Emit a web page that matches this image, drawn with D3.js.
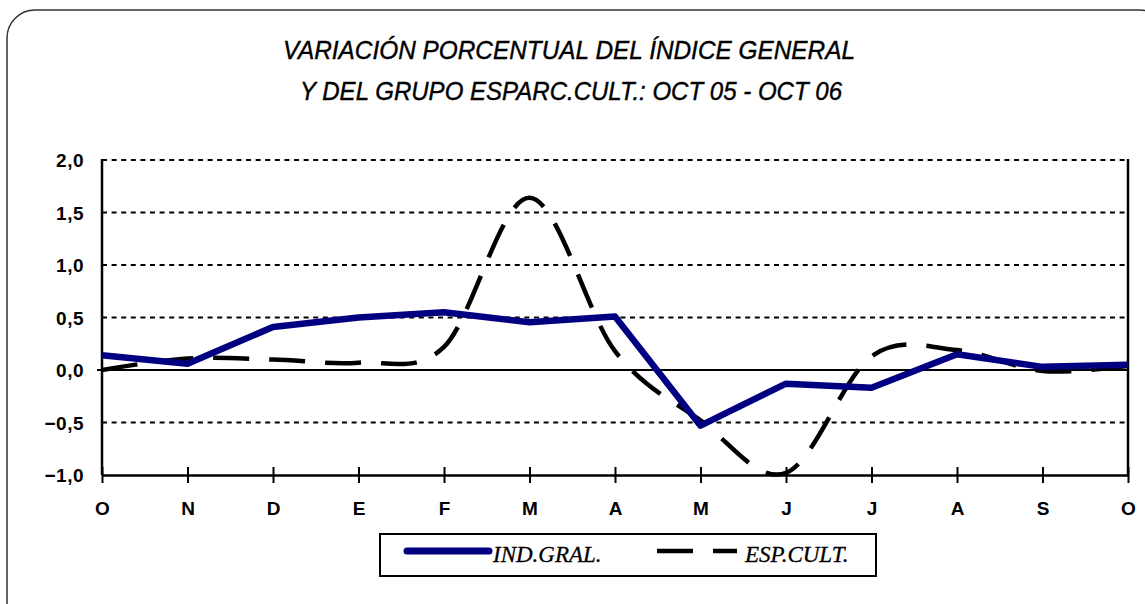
<!DOCTYPE html>
<html lang="es">
<head>
<meta charset="UTF-8">
<title>Variación porcentual</title>
<script src="https://d3js.org/d3.v7.min.js"></script>
<style>
  html, body { margin: 0; padding: 0; background: #fff; overflow: hidden; }
  svg { display: block; }
  svg text { font-family: 'Liberation Sans', Arial, sans-serif; fill: #000; }
</style>
</head>
<body>
<div id="chart"></div>
<script>
// months Oct 05 - Oct 06
var months = ["O", "N", "D", "E", "F", "M", "A", "M", "J", "J", "A", "S", "O"];
var indGral = [0.14, 0.06, 0.41, 0.50, 0.55, 0.455, 0.51, -0.53, -0.13, -0.17, 0.15, 0.03, 0.05];
var espCult = [0.0, 0.11, 0.10, 0.07, 0.22, 1.64, 0.18, -0.48, -0.98, 0.13, 0.19, -0.01, 0.04];
var yTicks = [2.0, 1.5, 1.0, 0.5, 0.0, -0.5, -1.0];

var svg = d3.select("#chart")
.append("svg")
.attr("width", 1145)
.attr("height", 604);

// outer rounded frame
svg.append("rect")
.attr("x", 7)
.attr("y", 10)
.attr("width", 1160)
.attr("height", 620)
.attr("rx", 28)
.attr("fill", "none")
.attr("stroke", "#333")
.attr("stroke-width", 1.5);

// title
var title = svg.append("g").style("font-style", "italic").style("font-size", "25px");
title.append("text")
.attr("x", 569).attr("y", 59)
.attr("text-anchor", "middle")
.attr("textLength", 572).attr("lengthAdjust", "spacingAndGlyphs")
.style("stroke", "#000").style("stroke-width", 0.4)
.text("VARIACIÓN PORCENTUAL DEL ÍNDICE GENERAL");
title.append("text")
.attr("x", 571).attr("y", 100)
.attr("text-anchor", "middle")
.attr("textLength", 542).attr("lengthAdjust", "spacingAndGlyphs")
.style("stroke", "#000").style("stroke-width", 0.4)
.text("Y DEL GRUPO ESPARC.CULT.: OCT 05 - OCT 06");

var x_scale = d3.scalePoint()
.domain(d3.range(months.length))
.range([102, 1128]);

var y_scale = d3.scaleLinear()
.domain([-1, 2])
.range([475, 160]);

// gridlines
svg.append("g")
.selectAll("line")
.data(yTicks.filter(function (d) { return d != -1 && d != 0; }))
.enter()
.append("line")
.attr("x1", 102).attr("x2", 1127)
.attr("y1", function (d) { return y_scale(d); })
.attr("y2", function (d) { return y_scale(d); })
.attr("stroke", "#000")
.attr("stroke-width", 2)
.attr("stroke-dasharray", "5,4.6");

// zero line
svg.append("line")
.attr("x1", 97).attr("x2", 1128)
.attr("y1", y_scale(0)).attr("y2", y_scale(0))
.attr("stroke", "#000").attr("stroke-width", 2);

// left axis + right border (as thin filled bars)
svg.append("g")
.selectAll("rect")
.data([0, months.length - 1])
.enter()
.append("rect")
.attr("x", function (d) { return x_scale(d) - 1.25; })
.attr("y", y_scale(2) - 1)
.attr("width", 2.5)
.attr("height", y_scale(-1) - y_scale(2) + 1)
.attr("fill", "#000");

// y labels
svg.append("g")
.selectAll("text")
.data(yTicks)
.enter()
.append("text")
.attr("x", 84)
.attr("y", function (d) { return y_scale(d) + 7; })
.attr("text-anchor", "end")
.style("font-size", "19px")
.style("font-weight", "bold")
.style("letter-spacing", "0.5px")
.text(function (d) { return d3.format(".1f")(d).replace(".", ","); });

// bottom axis with crossing ticks
var x_axis = d3.axisBottom(x_scale)
.tickSizeInner(8)
.tickSizeOuter(0)
.tickFormat(function (i) { return months[i]; });

var xg = svg.append("g")
.attr("transform", "translate(0," + y_scale(-1) + ")")
.call(x_axis);
xg.select(".domain").attr("stroke", "#000").attr("stroke-width", 2.5);
xg.selectAll(".tick line").attr("y1", -8).attr("stroke", "#000").attr("stroke-width", 2);
xg.selectAll(".tick text")
.attr("y", 40).attr("dy", 0)
.style("font-size", "19px")
.style("font-weight", "bold")
.style("font-family", "'Liberation Sans', Arial, sans-serif")
.attr("fill", "#000");

// series
var blueLine = d3.line()
.x(function (d, i) { return x_scale(i); })
.y(function (d) { return y_scale(d); });

var smoothLine = d3.line()
.x(function (d, i) { return x_scale(i); })
.y(function (d) { return y_scale(d); })
.curve(d3.curveCardinal.tension(0));

svg.append("path")
.datum(espCult)
.attr("d", smoothLine)
.attr("fill", "none")
.attr("stroke", "#000")
.attr("stroke-width", 4.5)
.attr("stroke-dasharray", "36,20");

svg.append("path")
.datum(indGral)
.attr("d", blueLine)
.attr("fill", "none")
.attr("stroke", "#000080")
.attr("stroke-width", 6.5)
.attr("stroke-linejoin", "round");

// legend
var legend = svg.append("g");
legend.append("rect")
.attr("x", 380).attr("y", 534)
.attr("width", 496).attr("height", 42)
.attr("fill", "#fff")
.attr("stroke", "#000")
.attr("stroke-width", 2);
legend.append("line")
.attr("x1", 407).attr("x2", 489)
.attr("y1", 551).attr("y2", 551)
.attr("stroke", "#000080")
.attr("stroke-width", 7)
.attr("stroke-linecap", "round");
legend.append("line")
.attr("x1", 657).attr("x2", 737)
.attr("y1", 551).attr("y2", 551)
.attr("stroke", "#000")
.attr("stroke-width", 4.5)
.attr("stroke-dasharray", "36,20");
legend.selectAll("text")
.data([{ x: 493, t: "IND.GRAL." }, { x: 745, t: "ESP.CULT." }])
.enter()
.append("text")
.attr("x", function (d) { return d.x; })
.attr("y", 562)
.style("font-family", "'Liberation Serif', 'Times New Roman', serif")
.style("font-style", "italic")
.style("font-size", "23px")
.style("stroke", "#000").style("stroke-width", 0.3)
.text(function (d) { return d.t; });
</script>
</body>
</html>
